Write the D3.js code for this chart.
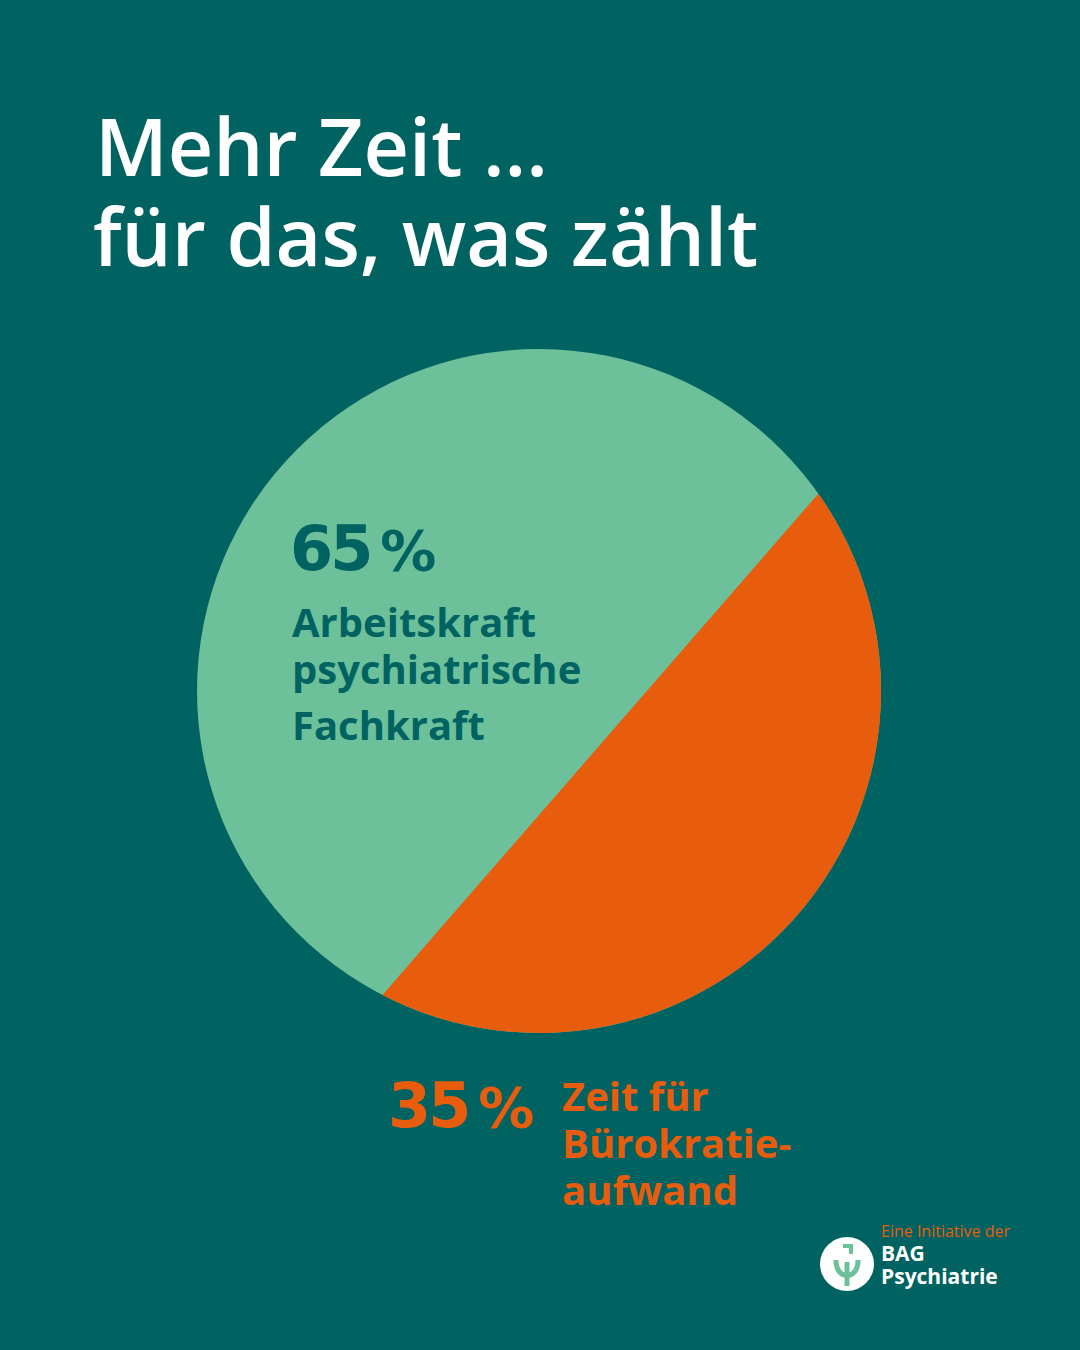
<!DOCTYPE html>
<html><head><meta charset="utf-8">
<script src="https://cdn.jsdelivr.net/npm/d3@7"></script>
<style>body{margin:0;background:#006361}</style>
</head><body><div id="chart"></div>
<script>
var labels = ["Zeit für Bürokratieaufwand", "Arbeitskraft psychiatrische Fachkraft"],
    values = [35, 65],
    colors = ["#e85c0d", "#6cc19b"];

var width = 1080, height = 1350;
var svg = d3.select("#chart").append("svg")
  .attr("width", width).attr("height", height)
  .style("font-family", "'Open Sans', sans-serif");

svg.append("rect").attr("width", width).attr("height", height).attr("fill", "#006361");

// title
svg.append("text").attr("x", 95).attr("y", 176).attr("fill", "#fff")
  .attr("font-size", 79).attr("font-weight", 600).text("Mehr Zeit ...");
svg.append("text").attr("x", 93).attr("y", 266).attr("fill", "#fff")
  .attr("font-size", 79).attr("font-weight", 600).text("für das, was zählt");

// pie: the small share is a circular segment cut off by a straight chord
var r = 342, cx = 539, cy = 691;
var frac = values[0] / d3.sum(values);
// solve theta - sin(theta) = 2*pi*frac for the segment's central angle
var th = Math.PI;
for (var k = 0; k < 30; k++) th -= (th - Math.sin(th) - 2 * Math.PI * frac) / (1 - Math.cos(th));
var mid = 131 * Math.PI / 180;
var a0 = mid - th / 2, a1 = mid + th / 2;
var rad = d3.scaleLinear().domain([0, 1]).range([0, r]);
var g = svg.append("g").attr("transform", "translate(" + cx + "," + cy + ")");
g.append("circle").attr("r", rad(1)).attr("fill", colors[1]);
var p = d3.path();
p.moveTo(rad(1) * Math.sin(a0), -rad(1) * Math.cos(a0));
p.arc(0, 0, rad(1), a0 - Math.PI / 2, a1 - Math.PI / 2);
p.closePath();
g.append("path").attr("d", p.toString()).attr("fill", colors[0]);

// labels
function pct(x, y, v, col) {
  var t = svg.append("text").attr("x", x).attr("y", y).attr("fill", col)
    .attr("font-family", "'DejaVu Sans', sans-serif").attr("font-weight", 700);
  t.append("tspan").attr("font-size", 62).attr("letter-spacing", -3).text(v);
  t.append("tspan").attr("font-size", 56).attr("dx", 10).text("%");
}
pct(290, 570, values[1], "#006361");
var l1 = ["Arbeitskraft", "psychiatrische", "Fachkraft"];
l1.forEach(function(s, i) {
  svg.append("text").attr("x", 292).attr("y", [637, 684, 740][i]).attr("fill", "#006361")
    .attr("font-size", 40).attr("font-weight", 700).text(s);
});
pct(388, 1127, values[0], "#e85c0d");
var l2 = ["Zeit für", "Bürokratie-", "aufwand"];
l2.forEach(function(s, i) {
  svg.append("text").attr("x", 562).attr("y", 1111 + i * 47).attr("fill", "#e85c0d")
    .attr("font-size", 40).attr("font-weight", 700).text(s);
});

// logo
svg.append("text").attr("x", 881).attr("y", 1237).attr("fill", "#e85c0d")
  .attr("font-size", 16).text("Eine Initiative der");
svg.append("text").attr("x", 881).attr("y", 1261).attr("fill", "#fff")
  .attr("font-size", 21).attr("font-weight", 700).text("BAG");
svg.append("text").attr("x", 881).attr("y", 1284).attr("fill", "#fff")
  .attr("font-size", 21).attr("font-weight", 700).text("Psychiatrie");
var lg = svg.append("g").attr("transform", "translate(847,1264)");
lg.append("circle").attr("r", 27).attr("fill", "#fff");
lg.append("path").attr("d", "M-11,-4 Q-11,10 0,12 Q11,10 11,-4 M0,-2 L0,22")
  .attr("fill", "none").attr("stroke", "#6cc19b").attr("stroke-width", 5);
lg.append("path").attr("d", "M-4,-18 L4,-18 L4,-10").attr("fill", "none")
  .attr("stroke", "#6cc19b").attr("stroke-width", 4);
</script></body></html>
